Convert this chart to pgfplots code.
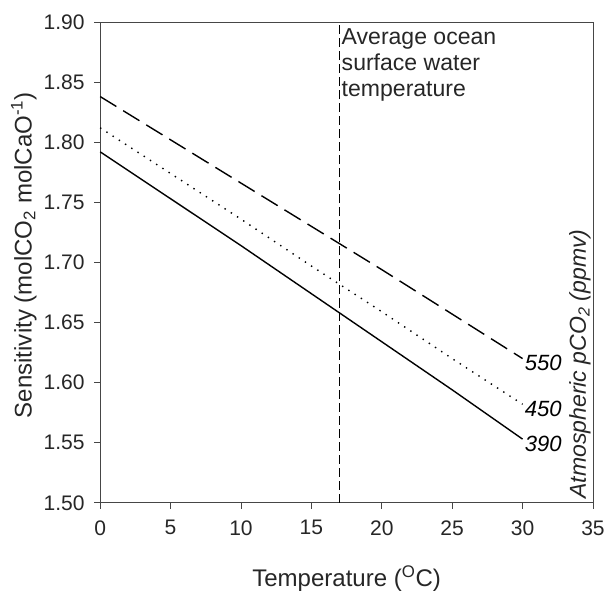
\documentclass[border=0pt]{standalone}
\usepackage{fontspec}
\setmainfont{Liberation Sans}
\usepackage{pgfplots}
\usetikzlibrary{calc}
\pgfplotsset{compat=1.18}
\definecolor{axgray}{RGB}{70,70,70}

\begin{document}
\begin{tikzpicture}
\begin{axis}[
scale only axis,
width=492pt,height=480pt,
xmin=0,xmax=35,ymin=1.50,ymax=1.90,
xtick={0,5,...,35},
ytick={1.50,1.55,...,1.90},
tick align=outside,
xtick pos=bottom,ytick pos=left,
major tick length=6pt,
axis line style={axgray,line width=0.8pt},
every tick/.style={axgray,line width=0.8pt},
/pgf/number format/assume math mode=true,
yticklabel style={/pgf/number format/fixed,/pgf/number format/fixed zerofill,/pgf/number format/precision=2,xshift=-6pt},
tick label style={font=\fontsize{21}{25}\selectfont,text=black!85},
xticklabel style={yshift=-8pt},
xlabel={Temperature (\textsuperscript{O}C)},
ylabel={Sensitivity (molCO\textsubscript{2} molCaO\textsuperscript{-1})},
label style={font=\fontsize{24}{28}\selectfont,text=black!85},
xlabel style={at={(axis description cs:0.5,-0.158)},anchor=center},
ylabel style={at={(axis description cs:-0.155,0.515)},anchor=center},
clip=false]
% 390 ppmv
\addplot[black,line width=1.4pt] coordinates {
(0,1.792) (5,1.753) (10,1.714) (15,1.674) (20,1.634) (25,1.594) (30,1.553)};
% 450 ppmv
\addplot[black,line width=1.4pt,dash pattern=on 1.4pt off 6pt] coordinates {
(0,1.812) (5,1.774) (10,1.736) (15,1.697) (20,1.659) (25,1.620) (30,1.582)};
% 550 ppmv
\addplot[black,line width=1.4pt,dash pattern=on 19pt off 8pt] coordinates {
(0,1.838) (5,1.802) (10,1.766) (15,1.730) (20,1.694) (25,1.657) (30,1.620)};
% average ocean surface water temperature
\addplot[black,line width=0.8pt,dash pattern=on 9pt off 4pt] coordinates {(17,1.50) (17,1.90)};
\node[anchor=north west,align=left,inner sep=2pt,yshift=-4pt,font=\fontsize{23}{26}\selectfont,text=black!85]
  at (axis cs:17,1.90) {Average ocean\\surface water\\temperature};
\node[anchor=west,yshift=-5pt,font=\fontsize{22}{25}\selectfont\itshape,inner sep=2pt] at (axis cs:30,1.553) {390};
\node[anchor=west,yshift=-5pt,font=\fontsize{22}{25}\selectfont\itshape,inner sep=2pt] at (axis cs:30,1.582) {450};
\node[anchor=west,yshift=-4pt,font=\fontsize{22}{25}\selectfont\itshape,inner sep=2pt] at (axis cs:30,1.620) {550};
\node[rotate=90,anchor=south west,font=\fontsize{23}{26}\selectfont\itshape,inner sep=2pt,text=black!85]
  at (rel axis cs:1,0.004) {Atmospheric pCO\textsubscript{2} (ppmv)};
\coordinate (bl) at (rel axis cs:0,0);
\coordinate (tr) at (rel axis cs:1,1);
\end{axis}
\pgfresetboundingbox
\useasboundingbox ($(bl)+(-100pt,-88pt)$) rectangle ($(tr)+(14pt,22pt)$);
\end{tikzpicture}
\end{document}
